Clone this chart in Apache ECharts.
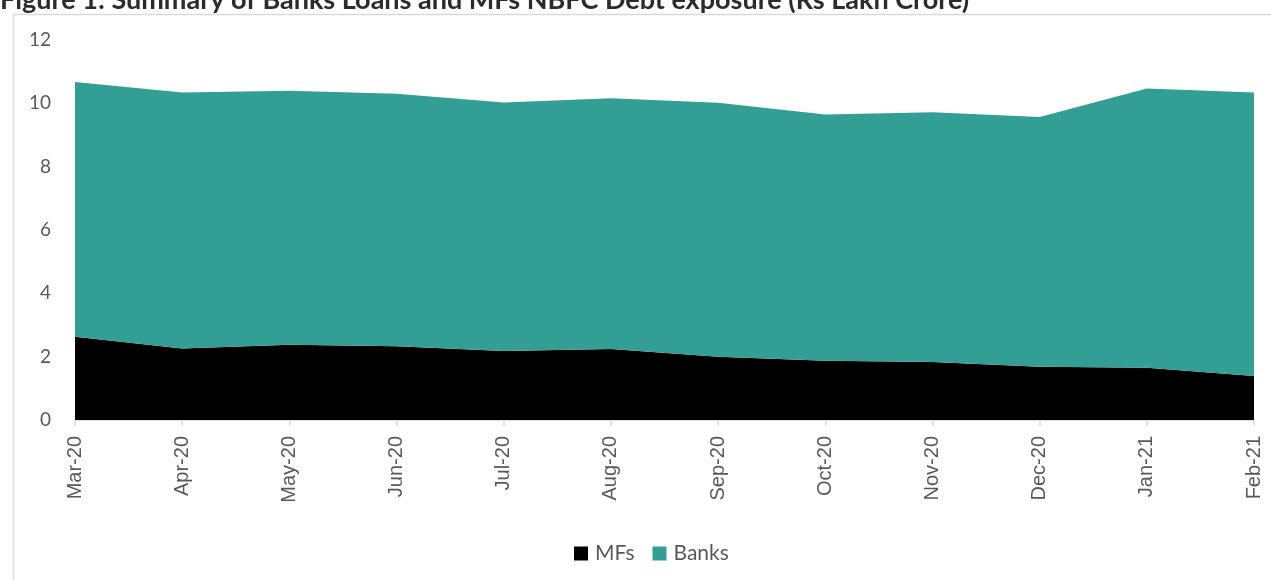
<!DOCTYPE html>
<html>
<head>
<meta charset="utf-8">
<script src="https://cdn.jsdelivr.net/npm/echarts@6/dist/echarts.min.js"></script>
<style>
html,body{margin:0;padding:0;background:#fff;}
#c{width:1271px;height:580px;}
</style>
</head>
<body>
<div id="c"></div>
<script>
const months = ['Mar-20','Apr-20','May-20','Jun-20','Jul-20','Aug-20','Sep-20','Oct-20','Nov-20','Dec-20','Jan-21','Feb-21'];
const mfs   = [2.63, 2.26, 2.38, 2.33, 2.18, 2.24, 2.00, 1.87, 1.83, 1.68, 1.65, 1.39];
const banks = [8.04, 8.08, 8.02, 7.97, 7.85, 7.92, 8.02, 7.78, 7.89, 7.89, 8.82, 8.95];
const yTicks = [0, 2, 4, 6, 8, 10, 12];
const titleText = 'Figure 1: Summary of Banks Loans and MFs NBFC Debt exposure (Rs Lakh Crore)';

const chart = echarts.init(document.getElementById('c'), null, {renderer: 'canvas'});
const labelFont = 'Lato, "Open Sans", sans-serif';
chart.setOption({
  animation: false,
  backgroundColor: '#ffffff',
  graphic: [
    {type: 'rect', left: 11, top: 12, shape: {x: 0, y: 0, width: 1300, height: 620},
     style: {fill: 'none', stroke: '#d9d9d9', lineWidth: 1.5}, silent: true, z: -1},
    {type: 'text', x: 0, y: 14,
     style: {text: titleText, font: 'bold 27px ' + labelFont, fill: '#2b2b2b', verticalAlign: 'bottom', align: 'left'}, silent: true}
  ],
  legend: {
    data: ['MFs', 'Banks'],
    left: 569, top: 538,
    itemWidth: 14, itemHeight: 14, itemGap: 18,
    icon: 'rect',
    textStyle: {fontSize: 21, color: '#595959', fontFamily: labelFont, padding: [0, 0, 0, 2]}
  },
  grid: {left: 75, right: 17, top: 40, bottom: 160, containLabel: false},
  xAxis: {
    type: 'category', data: months, boundaryGap: false,
    axisLine: {lineStyle: {color: '#d9d9d9', width: 1.5}},
    axisTick: {show: true, length: 6, lineStyle: {color: '#d9d9d9', width: 1.5}},
    axisLabel: {rotate: 90, fontSize: 20, color: '#595959', margin: 16, fontFamily: '"Liberation Sans", Arial, sans-serif'}
  },
  yAxis: {
    type: 'value', min: yTicks[0], max: yTicks[yTicks.length - 1], interval: 2,
    axisLine: {show: false}, axisTick: {show: false},
    splitLine: {show: false},
    axisLabel: {fontSize: 19, color: '#595959', margin: 24, fontFamily: labelFont}
  },
  series: [
    {name: 'MFs', type: 'line', stack: 'total', data: mfs, symbol: 'none',
     lineStyle: {width: 0}, areaStyle: {color: '#000000', opacity: 1}, itemStyle: {color: '#000000'}},
    {name: 'Banks', type: 'line', stack: 'total', data: banks, symbol: 'none',
     lineStyle: {width: 0}, areaStyle: {color: '#339e94', opacity: 1}, itemStyle: {color: '#339e94'}}
  ]
});
</script>
</body>
</html>
